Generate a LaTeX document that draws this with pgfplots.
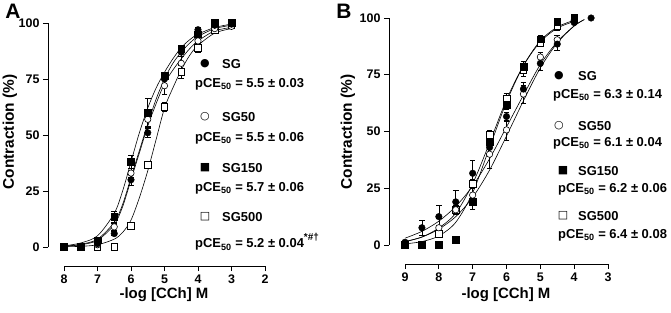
\documentclass[border=0pt]{standalone}
\usepackage{pgfplots}
\usepackage{pgfplotstable}
\pgfplotsset{compat=1.18}
\usepackage{fontspec}
\setmainfont{Liberation Sans}
\newfontfamily\symfont{DejaVu Sans}

% ---------- Panel A data (x = -log[CCh], y = contraction %, e = SEM) ----------
\pgfplotstableread{
x y e
8 0 0
7.5 0 0
7 1.5 0
6.5 6 1
6 30 2.5
5.5 51 2
5 75 2
4.5 87 2
4 97 1
3.5 99 0
3 99.5 0
}\aSG
\pgfplotstableread{
x y e
8 0 0
7.5 0 0
7 1 0
6.5 9 1.5
6 33 2
5.5 57 3
5 72 4
4.5 82 3
4 92 1.5
3.5 97.5 0
3 98.5 0
}\aSGf
\pgfplotstableread{
x y e
8 0 0
7.5 0 0
7 3 1.5
6.5 13.5 2.3
6 38 3
5.5 60 6.4
5 76.5 1.5
4.5 88.5 1.5
4 95 1
3.5 100 0
3 100 0
}\aSGh
\pgfplotstableread{
x y e
8 0 0
7.5 0 0
7 0 0
6.5 0 0
6 9.4 1
5.5 36.6 1.5
5 62.6 2
4.5 78.3 3
4 89 2
3.5 97 0
3 99 0
}\aSGk
\pgfplotstableread{
x sg sgf sgh sgk
8 0.3 0.3 0.5 0.1
7.5 1.2 1.0 1.8 0.3
7 3.5 3 5 1
6.5 11 10 15 3.5
6.25 19 18 25 6.5
6 31 30 38 12
5.75 43 42 51 22
5.5 55 54 62 34
5.25 66 64 71 48
5 75 73 78 62
4.75 82 79 84 71
4.5 87 84 89 79
4.25 91 88.5 92.5 85.5
4 94 92 95 90
3.5 97.5 96.5 98 95.5
3 99 98 99.5 97.5
}\aCurve

% ---------- Panel B data ----------
\pgfplotstableread{
x y e
9 1.2 0
8.5 7.6 3.5
8 12.5 5
7.5 19 5
7 31.6 5.6
6.5 43 3
6 56.6 2
5.5 68.7 3
5 80 3
4.5 88.5 2.7
4 98 0
3.5 100 0
}\bSG
\pgfplotstableread{
x y e
9 0 0
8.5 0 0
8 7.6 4
7.5 15.5 2
7 22 4
6.5 40 6
6 50.7 4.4
5.5 66.5 4
5 82.8 2
4.5 90.4 2
4 99 0
}\bSGf
\pgfplotstableread{
x y e
9 0 0
8.5 0 0
8 0 0
7.5 2.5 0
7 19 3.2
6.5 45.6 2
6 61.8 2
5.5 78.6 2.5
5 90.7 1.5
4.5 98.5 0
4 100 0
}\bSGh
\pgfplotstableread{
x y e
9 0 0
8.5 0 0
8 5 0
7.5 15.5 2
7 27 2
6.5 48.5 2
6 64.7 2
5.5 77.2 3
5 89 1.5
4.5 96.3 1.5
4 99.5 0
}\bSGk
\pgfplotstableread{
x sg sgf
9 3 1.5
8.5 6 3.5
8 10.5 7
7.5 17 12.5
7 26 21
6.5 38 33
6 52 48
5.5 66 63.5
5 79.5 78
4.5 89.5 89
4 96.5 96.5
3.7 99.3 99.3
}\bCurveA
\pgfplotstableread{
x sgh sgk
9 0.5 1.5
8.5 1.5 3.5
8 4 7.5
7.5 10 14
7 23 27
6.5 43 45
6 63 64
5.5 79 79
5 90 89.5
4.5 96 95.5
4 99 98.5
3.9 99.3 99
}\bCurveB

\pgfplotsset{
  prism/.style={
    scale only axis,
    axis x line=bottom, axis y line=left,
    axis line style={-, line width=0.8bp},
    x dir=reverse,
    axis x line shift=19bp, axis y line shift=16bp,
    ymin=0, ymax=100,
    ytick={0,25,50,75,100},
    tick align=outside,
    major tick length=5bp,
    every tick/.style={line width=0.8bp, black},
    tick label style={font=\bfseries\fontsize{12.5}{12.5}\selectfont},
    /pgf/number format/assume math mode=true,
    clip=false,
  },
  fitc/.style={black, line width=0.6bp, smooth, no marks},
  ebar/.style={error bars/.cd, y dir=both, y explicit,
     error bar style={line width=0.6bp, black},
     error mark options={rotate=90, mark size=2.8bp, line width=0.6bp, black}},
  mfc/.style={only marks, mark=*, mark size=3.3bp, mark options={fill=black, draw=black}},
  moc/.style={only marks, mark=*, mark size=3.2bp, mark options={fill=white, draw=black, line width=0.6bp}},
  mfs/.style={only marks, mark=square*, mark size=3.4bp, mark options={fill=black, draw=black}},
  mos/.style={only marks, mark=square*, mark size=3.3bp, mark options={fill=white, draw=black, line width=0.6bp}},
}

\newcommand{\pce}[1]{pCE\textsubscript{50} = #1}

\begin{document}
\begin{tikzpicture}
\useasboundingbox (0,0) rectangle (671bp,313bp);

% ---------------- Panel A ----------------
\begin{axis}[prism, at={(64bp,66bp)}, anchor=south west,
  width=201bp, height=224bp, xmin=2, xmax=8, xtick={2,3,4,5,6,7,8}]
\addplot[fitc] table[x=x,y=sg]{\aCurve};
\addplot[fitc] table[x=x,y=sgf]{\aCurve};
\addplot[fitc] table[x=x,y=sgh]{\aCurve};
\addplot[fitc] table[x=x,y=sgk]{\aCurve};
\addplot[mos, ebar] table[x=x,y=y,y error=e]{\aSGk};
\addplot[moc, ebar] table[x=x,y=y,y error=e]{\aSGf};
\addplot[mfc, ebar] table[x=x,y=y,y error=e]{\aSG};
\addplot[mfs, ebar] table[x=x,y=y,y error=e]{\aSGh};
\end{axis}

% ---------------- Panel B ----------------
\begin{axis}[prism, at={(405bp,68bp)}, anchor=south west,
  width=203bp, height=227bp, xmin=3, xmax=9, xtick={3,4,5,6,7,8,9}]
\addplot[fitc] table[x=x,y=sg]{\bCurveA};
\addplot[fitc] table[x=x,y=sgf]{\bCurveA};
\addplot[fitc] table[x=x,y=sgh]{\bCurveB};
\addplot[fitc] table[x=x,y=sgk]{\bCurveB};
\addplot[mos, ebar] table[x=x,y=y,y error=e]{\bSGk};
\addplot[moc, ebar] table[x=x,y=y,y error=e]{\bSGf};
\addplot[mfc, ebar] table[x=x,y=y,y error=e]{\bSG};
\addplot[mfs, ebar] table[x=x,y=y,y error=e]{\bSGh};
\end{axis}

% ---------------- Texts ----------------
\begin{scope}[x=1bp, y=1bp, every node/.style={font=\bfseries\fontsize{13}{13}\selectfont, inner sep=0pt}]
\node[font=\bfseries\fontsize{21}{21}\selectfont] at (13,302) {A};
\node[font=\bfseries\fontsize{21}{21}\selectfont] at (344,302) {B};
\node[font=\bfseries\fontsize{15.5}{15.5}\selectfont, rotate=90] at (10,181) {Contraction (\%)};
\node[font=\bfseries\fontsize{15.5}{15.5}\selectfont, rotate=90] at (348,181) {Contraction (\%)};
\node[font=\bfseries\fontsize{15}{15}\selectfont] at (164,18) {-log [CCh] M};
\node[font=\bfseries\fontsize{15}{15}\selectfont] at (506,18) {-log [CCh] M};

% panel A annotations
\node[font=\symfont\fontsize{11}{11}\selectfont] at (205,249) {●};
\node[anchor=west] at (222,249) {SG};
\node[anchor=west] at (195,229) {\pce{5.5 ± 0.03}};
\node[font=\symfont\fontsize{11}{11}\selectfont] at (205,196) {○};
\node[anchor=west] at (222,196) {SG50};
\node[anchor=west] at (195,175) {\pce{5.5 ± 0.06}};
\node[font=\symfont\fontsize{11}{11}\selectfont] at (205,145) {■};
\node[anchor=west] at (222,145) {SG150};
\node[anchor=west] at (195,125) {\pce{5.7 ± 0.06}};
\node[font=\symfont\fontsize{11}{11}\selectfont] at (205,96) {□};
\node[anchor=west] at (222,96) {SG500};
\node[anchor=west] at (195,71) {\pce{5.2 ± 0.04}\raisebox{0.55em}{\fontsize{10}{10}\selectfont *\#†}};

% panel B annotations
\node[font=\symfont\fontsize{11}{11}\selectfont] at (559,237) {●};
\node[anchor=west] at (578,237) {SG};
\node[anchor=west] at (553,218) {\pce{6.3 ± 0.14}};
\node[font=\symfont\fontsize{11}{11}\selectfont] at (559,187) {○};
\node[anchor=west] at (578,187) {SG50};
\node[anchor=west] at (553,170) {\pce{6.1 ± 0.04}};
\node[font=\symfont\fontsize{11}{11}\selectfont] at (563,142) {■};
\node[anchor=west] at (578,142) {SG150};
\node[anchor=west] at (558,124) {\pce{6.2 ± 0.06}};
\node[font=\symfont\fontsize{11}{11}\selectfont] at (563,97) {□};
\node[anchor=west] at (578,97) {SG500};
\node[anchor=west] at (558,78) {\pce{6.4 ± 0.08}};
\end{scope}
\end{tikzpicture}
\end{document}
